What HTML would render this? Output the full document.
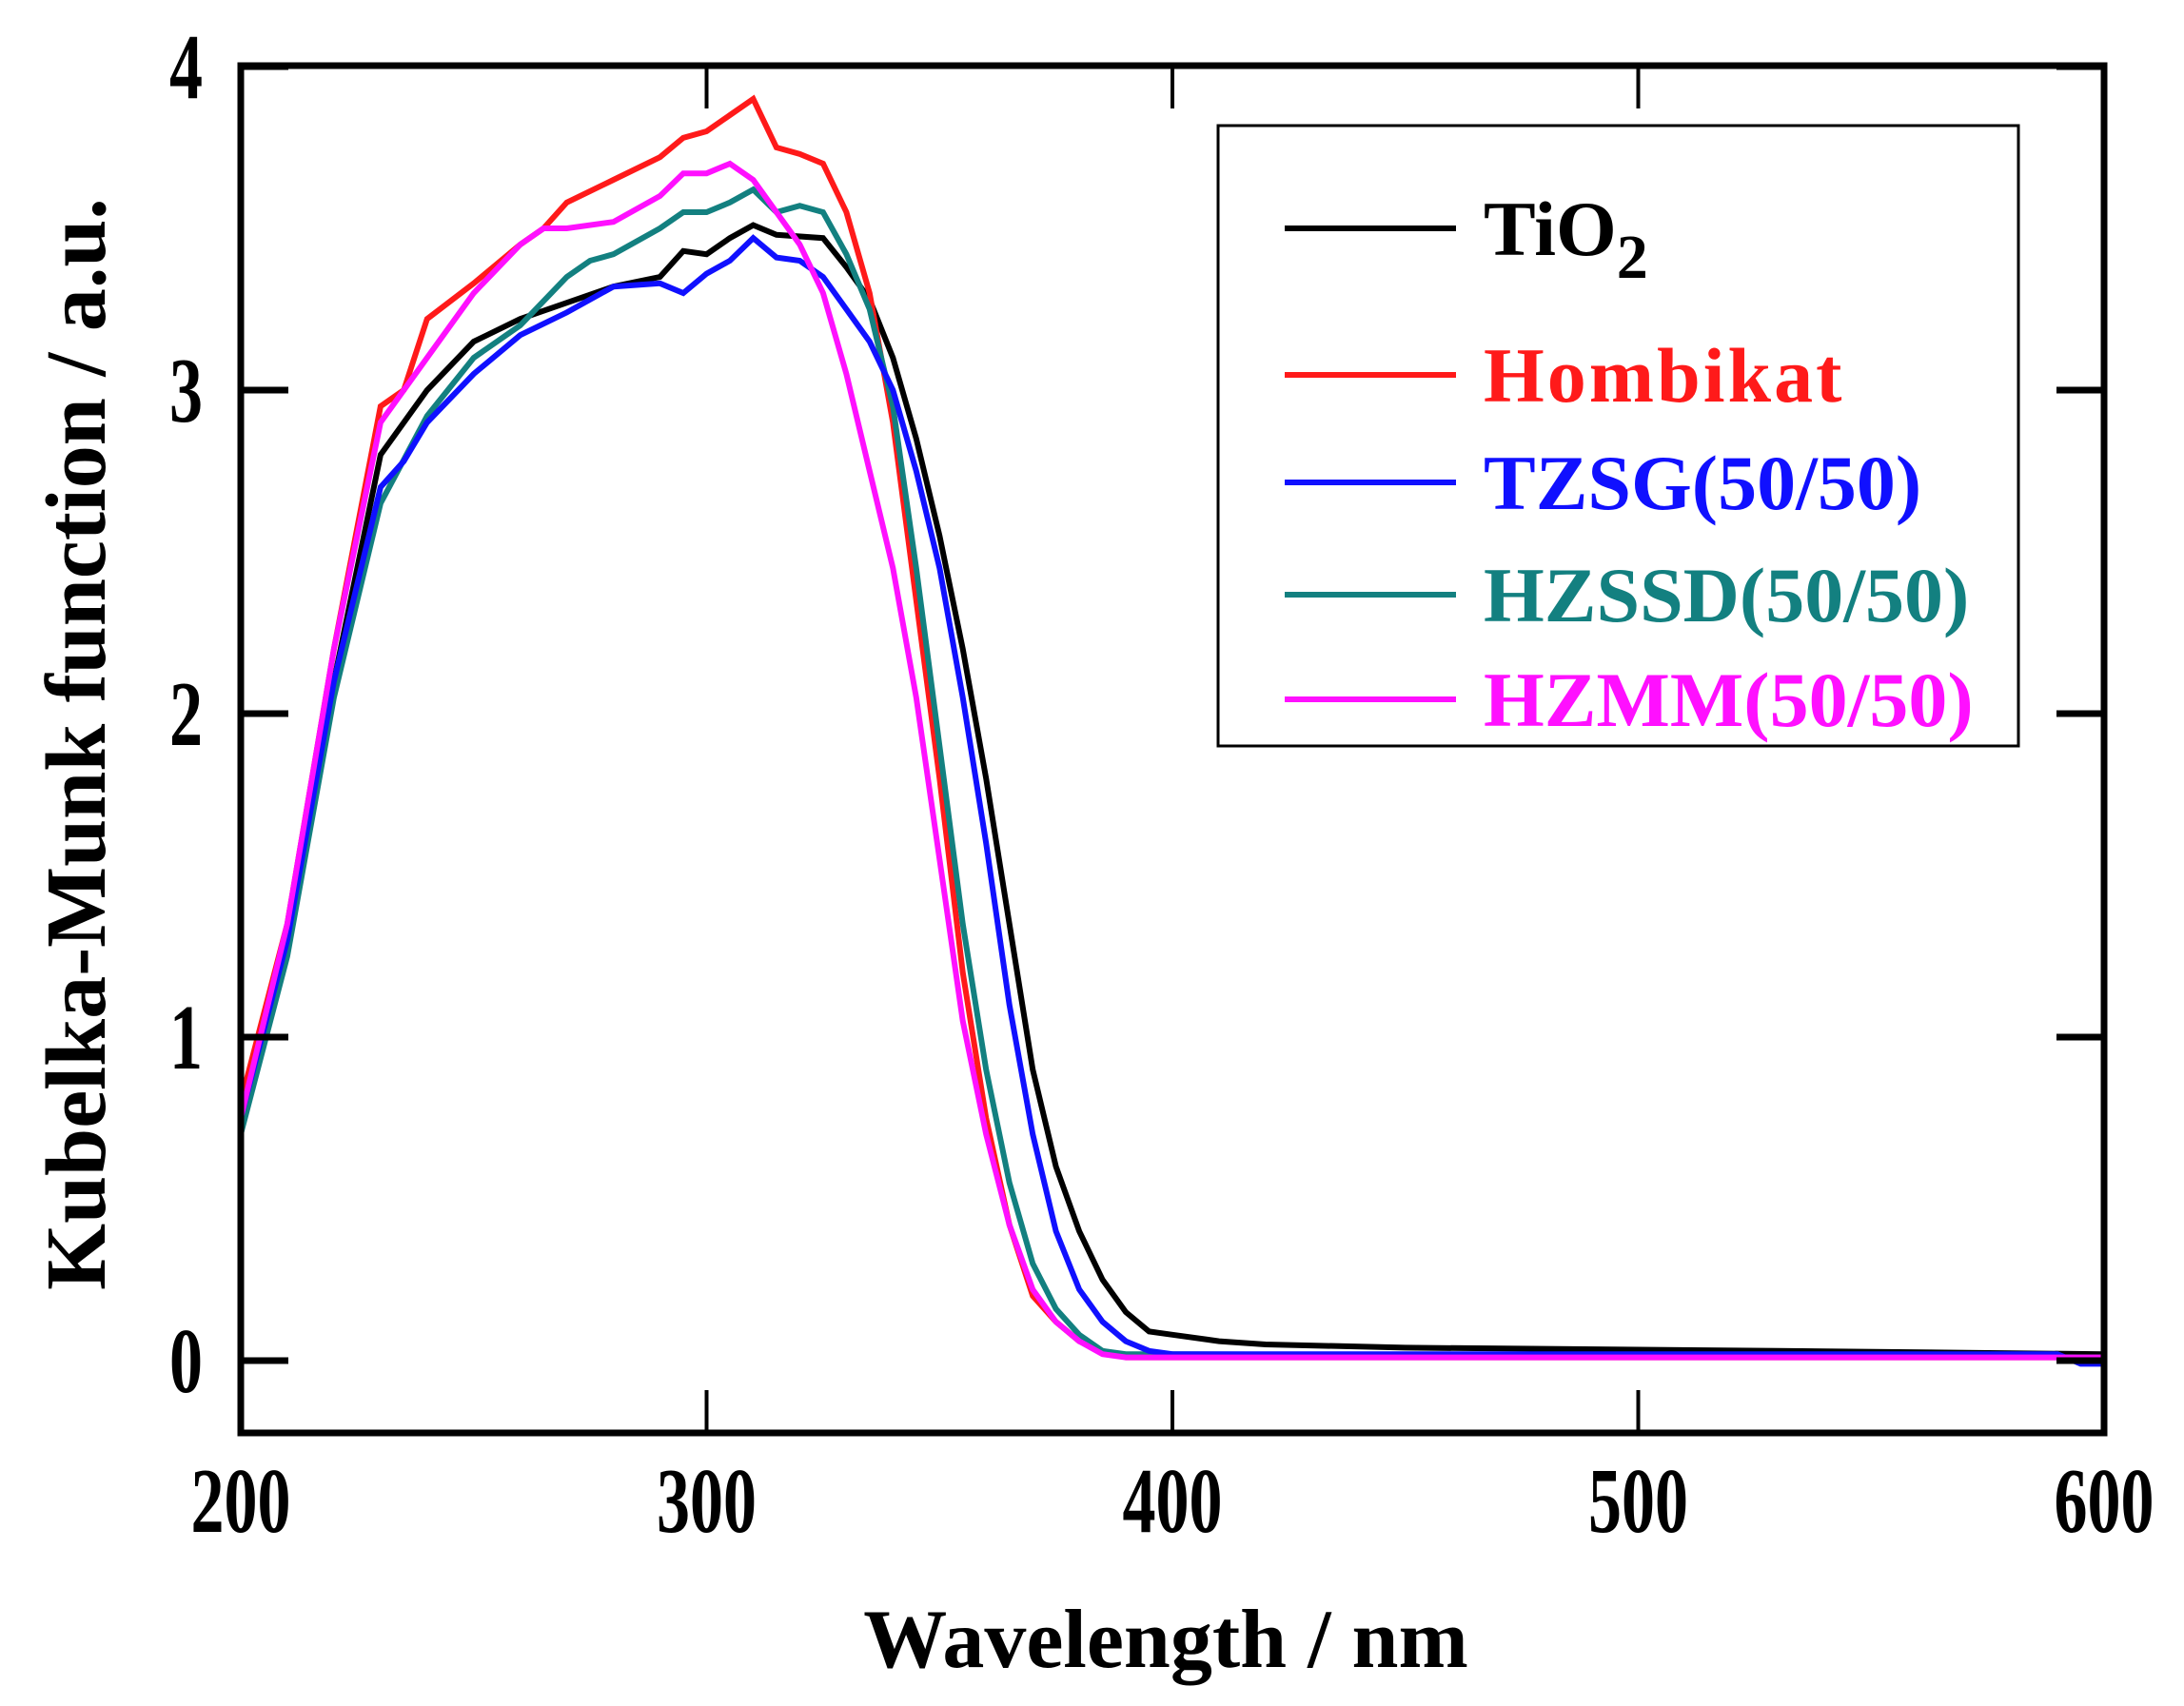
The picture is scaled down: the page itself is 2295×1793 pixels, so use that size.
<!DOCTYPE html>
<html><head><meta charset="utf-8"><style>
html,body{margin:0;padding:0;background:#fff;}
svg{display:block;font-family:"Liberation Serif","Times New Roman",serif;font-weight:bold;}
</style></head><body>
<svg id="chart" width="2295" height="1793" viewBox="0 0 2295 1793" xmlns="http://www.w3.org/2000/svg">
<g id="plot"></g>
<g id="axes"></g>
<g id="legend"></g>
</svg>
<script>
const xTicks = [200, 300, 400, 500, 600];
const yTicks = [0, 1, 2, 3, 4];
const seriesNames = ["TiO2", "Hombikat", "TZSG(50/50)", "HZSSD(50/50)", "HZMM(50/50)"];
const seriesColors = ["#000000", "#ff1a1a", "#1010ff", "#138080", "#ff10ff"];
const tio2X = [200,210,220,230,240,250,260,270,280,290,295,300,305,310,315,325,330,335,340,345,350,355,360,365,370,375,380,385,390,395,400,410,420,450,530,600];
const tio2Y = [0.75,1.3,2.1,2.8,3.0,3.15,3.22,3.27,3.32,3.35,3.43,3.42,3.47,3.51,3.48,3.47,3.38,3.28,3.1,2.85,2.55,2.2,1.8,1.35,0.9,0.6,0.4,0.25,0.15,0.09,0.08,0.06,0.05,0.04,0.03,0.02];
const hombX = [200,210,220,230,235,240,250,260,265,270,280,290,295,300,305,310,315,320,325,330,335,340,345,350,355,360,365,370,375,380,385,390,400,600];
const hombY = [0.8,1.35,2.2,2.95,3.0,3.22,3.33,3.45,3.5,3.58,3.65,3.72,3.78,3.8,3.85,3.9,3.75,3.73,3.7,3.55,3.3,2.9,2.35,1.8,1.2,0.75,0.42,0.2,0.12,0.06,0.03,0.01,0.01,0.01];
const tzsgX = [200,210,220,230,235,240,250,260,270,280,290,295,300,305,310,315,320,325,330,335,340,345,350,355,360,365,370,375,380,385,390,395,400,420,590,595,600];
const tzsgY = [0.75,1.3,2.1,2.7,2.78,2.9,3.05,3.17,3.24,3.32,3.33,3.3,3.36,3.4,3.47,3.41,3.4,3.35,3.25,3.15,3.0,2.75,2.45,2.05,1.6,1.1,0.7,0.4,0.22,0.12,0.06,0.03,0.02,0.02,0.02,-0.01,-0.01];
const hzssdX = [200,210,220,230,240,250,260,270,275,280,290,295,300,305,310,315,320,325,330,335,340,345,350,355,360,365,370,375,380,385,390,400,600];
const hzssdY = [0.7,1.25,2.05,2.65,2.92,3.1,3.2,3.35,3.4,3.42,3.5,3.55,3.55,3.58,3.62,3.55,3.57,3.55,3.42,3.25,2.95,2.45,1.9,1.35,0.9,0.55,0.3,0.16,0.08,0.03,0.02,0.02,0.01];
const hzmmX = [200,210,220,230,240,250,260,265,270,280,290,295,300,305,310,315,320,325,330,335,340,345,350,355,360,365,370,375,380,385,390,600];
const hzmmY = [0.75,1.35,2.2,2.9,3.1,3.3,3.45,3.5,3.5,3.52,3.6,3.67,3.67,3.7,3.65,3.55,3.45,3.3,3.05,2.75,2.45,2.05,1.55,1.05,0.7,0.42,0.22,0.12,0.06,0.02,0.01,0.01];

const NS = "http://www.w3.org/2000/svg";
const L = 253, R = 2211, T = 69, B = 1506;
const xScale = v => L + (v - 200) / 400 * (R - L);
const yScale = v => 1430 - v * 340;
function mk(tag, attrs, parent) {
  const e = document.createElementNS(NS, tag);
  for (const k in attrs) e.setAttribute(k, attrs[k]);
  parent.appendChild(e);
  return e;
}
const plot = document.getElementById("plot");
const axes = document.getElementById("axes");
const legend = document.getElementById("legend");
const allX = [tio2X, hombX, tzsgX, hzssdX, hzmmX];
const allY = [tio2Y, hombY, tzsgY, hzssdY, hzmmY];
const seriesKeys = ["tio2", "hombikat", "tzsg", "hzssd", "hzmm"];
const drawOrder = [0, 1, 3, 2, 4];
drawOrder.forEach(i => {
  const d = allX[i].map((x, j) => (j ? "L" : "M") + xScale(x).toFixed(1) + " " + yScale(allY[i][j]).toFixed(1)).join(" ");
  const p = mk("path", {d: d, fill: "none", stroke: seriesColors[i], "stroke-width": 6, "stroke-linejoin": "miter"}, plot);
  
  
});
const fr = mk("rect", {x: L, y: T, width: R - L, height: B - T, fill: "none", stroke: "#000", "stroke-width": 7}, axes);


xTicks.forEach(v => {
  const x = xScale(v);
  const t1 = mk("line", {x1: x, y1: B, x2: x, y2: B - 45, stroke: "#000", "stroke-width": 4}, axes);
  
  
  const t2 = mk("line", {x1: x, y1: T, x2: x, y2: T + 45, stroke: "#000", "stroke-width": 4}, axes);
  
  
  const lb = mk("text", {x: 0, y: 0, "text-anchor": "middle", "font-size": 70, transform: "translate(" + x + ",1610) scale(1,1.4)"}, axes);
  lb.textContent = v;
  
  
});
yTicks.forEach(v => {
  const y = yScale(v);
  const t1 = mk("line", {x1: L, y1: y, x2: L + 50, y2: y, stroke: "#000", "stroke-width": 7}, axes);
  
  
  const t2 = mk("line", {x1: R, y1: y, x2: R - 50, y2: y, stroke: "#000", "stroke-width": 7}, axes);
  
  
  const lb = mk("text", {x: 0, y: 0, "text-anchor": "end", "font-size": 70, transform: "translate(213," + (y + 33) + ") scale(1,1.4)"}, axes);
  lb.textContent = v;
  
  
});
const xt = mk("text", {x: 1225, y: 1752, "text-anchor": "middle", "font-size": 88}, axes);
xt.textContent = "Wavelength / nm";


const yt = mk("text", {x: 0, y: 0, "text-anchor": "middle", "font-size": 90, transform: "translate(110,782) rotate(-90)"}, axes);
yt.textContent = "Kubelka-Munk function / a.u.";


const lbox = mk("rect", {x: 1280, y: 132, width: 841, height: 652, fill: "#fff", stroke: "#000", "stroke-width": 3}, legend);


const rowY = [240, 394, 507, 625, 735];
seriesNames.forEach((n, i) => {
  const g = mk("g", {}, legend);
  
  
  mk("line", {x1: 1350, y1: rowY[i], x2: 1530, y2: rowY[i], stroke: seriesColors[i], "stroke-width": 6}, g);
  const tx = mk("text", {x: 1559, y: rowY[i] + 28, "font-size": 82, fill: seriesColors[i], "letter-spacing": i === 1 ? 3 : 0}, g);
  if (i === 0) {
    tx.textContent = "TiO";
    const s = mk("tspan", {dy: 24, "font-size": 66}, tx);
    s.textContent = "2";
  } else tx.textContent = n;
});
</script>
</body></html>
